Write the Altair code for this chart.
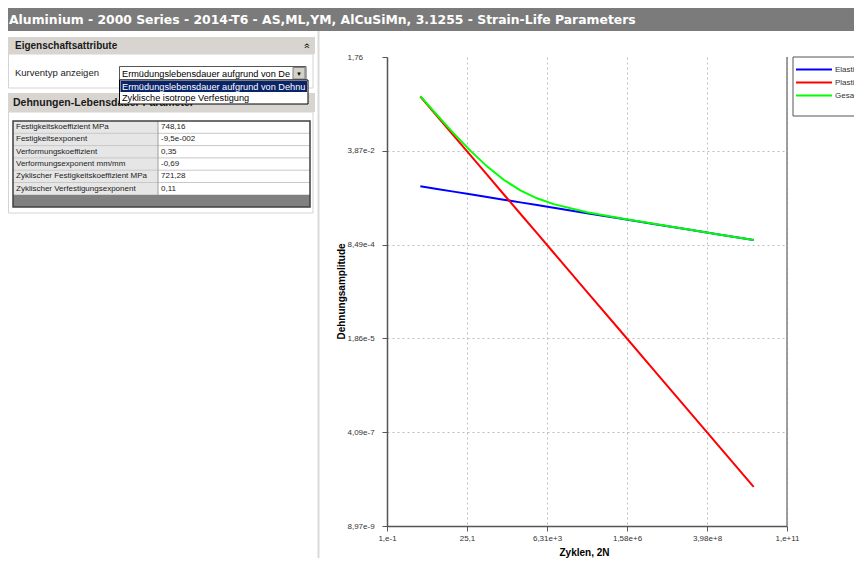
import altair as alt
import pandas as pd

# ---------------- data ----------------
cycles = [1, 3.16, 10, 31.6, 100, 316, 1000, 3160, 1e4, 1e5, 1e6, 1e7, 1e8, 1e9, 1e10]
elastic = [9.12e-3, 8.18e-3, 7.33e-3, 6.57e-3, 5.89e-3, 5.28e-3, 4.73e-3, 4.24e-3,
           3.80e-3, 3.05e-3, 2.45e-3, 1.97e-3, 1.58e-3, 1.27e-3, 1.02e-3]
plastic = [0.35, 0.158, 0.0714, 0.0323, 0.0146, 6.59e-3, 2.98e-3, 1.35e-3,
           6.08e-4, 1.24e-4, 2.54e-5, 5.18e-6, 1.06e-6, 2.16e-7, 4.41e-8]
total = [0.359, 0.166, 0.0787, 0.0389, 0.0205, 0.0119, 7.71e-3, 5.59e-3,
         4.41e-3, 3.17e-3, 2.48e-3, 1.98e-3, 1.58e-3, 1.27e-3, 1.02e-3]
series_names = ["Elastisch", "Plastisch", "Gesamt"]
series_colors = ["#0000ff", "#ff0000", "#00ff00"]

x_ticks = [0.1, 25.1189, 6309.57, 1584893.2, 398107170.6, 1e11]
x_labels = ["1,e-1", "25,1", "6,31e+3", "1,58e+6", "3,98e+8", "1,e+11"]
y_ticks = [1.76, 3.87e-2, 8.49e-4, 1.86e-5, 4.09e-7, 8.97e-9]
y_labels = ["1,76", "3,87e-2", "8,49e-4", "1,86e-5", "4,09e-7", "8,97e-9"]

page_title = "Aluminium - 2000 Series - 2014-T6 - AS,ML,YM, AlCuSiMn, 3.1255 - Strain-Life Parameters"
section1 = "Eigenschaftsattribute"
section2 = "Dehnungen-Lebensdauer Parameter"
curve_label = "Kurventyp anzeigen"
curve_options = ["Ermüdungslebensdauer aufgrund von Dehnung", "Zyklische isotrope Verfestigung"]
prop_names = ["Festigkeitskoeffizient MPa", "Festigkeitsexponent", "Verformungskoeffizient",
              "Verformungsexponent mm/mm", "Zyklischer Festigkeitskoeffizient MPa",
              "Zyklischer Verfestigungsexponent"]
prop_values = ["748,16", "-9,5e-002", "0,35", "-0,69", "721,28", "0,11"]

# ---------------- helpers for the surrounding UI ----------------
OX, OY = 387, 57          # screen position of the plot origin
PW, PH = 400, 469         # plot area
one = pd.DataFrame({"k": [0]})
UIFONT = "Liberation Sans"


def box(x1, y1, x2, y2, fill, stroke=None, sw=1.0):
    kw = {}
    if fill is None:
        kw["fill"] = "white"
        kw["fillOpacity"] = 0
    else:
        kw["fill"] = fill
    if stroke:
        kw["stroke"] = stroke
        kw["strokeWidth"] = sw
    else:
        kw["strokeWidth"] = 0
    return alt.Chart(one).mark_rect(**kw).encode(
        x=alt.value(x1 - OX), x2=alt.value(x2 - OX),
        y=alt.value(y1 - OY), y2=alt.value(y2 - OY))


def hline(x1, x2, y, color, sw=1.0):
    return alt.Chart(one).mark_rule(color=color, strokeWidth=sw).encode(
        x=alt.value(x1 - OX), x2=alt.value(x2 - OX), y=alt.value(y - OY))


def vline(x, y1, y2, color, sw=1.0):
    return alt.Chart(one).mark_rule(color=color, strokeWidth=sw).encode(
        x=alt.value(x - OX), y=alt.value(y1 - OY), y2=alt.value(y2 - OY))


def label(x, y, s, size=9.5, weight="normal", color="#000000", align="left",
          limit=0, angle=0, font=UIFONT):
    kw = dict(text=s, fontSize=size, fontWeight=weight, color=color,
              align=align, baseline="middle", font=font)
    if limit:
        kw["limit"] = limit
        kw["ellipsis"] = "\u200b"
    if angle:
        kw["angle"] = angle
    return alt.Chart(one).mark_text(**kw).encode(
        x=alt.value(x - OX), y=alt.value(y - OY))


ui = [
    box(8, 8, 860, 31, "#7b7b7b"),
    label(9, 20, page_title, size=12.4, weight="bold", color="#ffffff", font="DejaVu Sans"),
    vline(318.5, 31, 560, "#dadada", 2),
    box(8, 37, 315, 54, "#d8d5d0"),
    label(15, 46, section1, size=10, weight="bold", color="#1a1a1a"),
    label(307, 46, "»", size=10, angle=270, align="center"),
    box(8.5, 54, 313, 88, "#ffffff", "#d4d4d4"),
    label(15, 73, curve_label, size=9.5, color="#222222"),
    box(119.5, 66.5, 306, 80, "#ffffff", "#555555"),
    label(122, 73.5, curve_options[0], size=9.2, limit=171),
    box(293, 67.5, 305, 79, "#d4d0c8", "#808080"),
    label(299, 73.5, "▼", size=6, align="center"),
    box(8, 93, 315, 112, "#d8d5d0"),
    label(13, 103, section2, size=10.5, weight="bold", color="#1a1a1a"),
    box(8.5, 112, 313, 213, "#ffffff", "#d4d4d4"),
]

# table
T_L, T_R, T_TOP, ROW_H, T_DIV, T_BOT = 13, 310, 121, 12.3, 158, 207
n_rows = len(prop_names)
rows_bottom = T_TOP + n_rows * ROW_H
ui += [
    box(T_L, T_TOP, T_DIV, rows_bottom, "#e6e6e6"),
    box(T_DIV, T_TOP, T_R, rows_bottom, "#ffffff"),
]
for i in range(1, n_rows):
    ui.append(hline(T_L, T_R, T_TOP + i * ROW_H, "#c8c8c8"))
ui.append(vline(T_DIV, T_TOP, rows_bottom, "#a0a0a0"))
ui.append(box(T_L, rows_bottom, T_R, T_BOT, "#808080"))
ui.append(box(T_L, T_TOP, T_R, T_BOT, None, "#404040", 1.5))
for i, (nm, vl) in enumerate(zip(prop_names, prop_values)):
    cy = T_TOP + (i + 0.5) * ROW_H
    ui.append(label(16, cy, nm, size=8, color="#222222"))
    ui.append(label(161, cy, vl, size=8, color="#222222"))

# open dropdown list (drawn on top)
ui += [
    box(119.5, 80, 308, 104, "#ffffff", "#000000"),
    box(120.5, 81, 307, 92, "#0a246a"),
    label(122, 86.5, curve_options[0], size=9.2, color="#ffffff", limit=185),
    label(122, 98, curve_options[1], size=9.2, color="#000000"),
]

# ---------------- chart ----------------
df = pd.DataFrame({
    "cycles": cycles * 3,
    "value": elastic + plastic + total,
    "series": [series_names[0]] * len(cycles) + [series_names[1]] * len(cycles)
              + [series_names[2]] * len(cycles),
})

x_expr = "[" + ",".join("'%s'" % s for s in x_labels) + "][round((log(datum.value)/LN10 + 1) / 2.4)]"
y_expr = ("[" + ",".join("'%s'" % s for s in y_labels) +
          "][round((log(1.76)/LN10 - log(datum.value)/LN10) / 1.6586)]")

common_axis = dict(labelFont=UIFONT, labelFontSize=8, labelColor="#333333",
                   labelFlush=False, labelOverlap=False, labelBound=False,
                   tickSize=5, tickColor="#555555", domainColor="#555555", domainWidth=1.5,
                   grid=True, gridDash=[2, 3], gridColor="#bdbdbd",
                   titleFont=UIFONT, titleFontSize=10, titleFontWeight="bold", titleColor="#000000")

x_axis = alt.Axis(values=x_ticks, labelExpr=x_expr, title="Zyklen, 2N",
                  titleX=197, titleY=26, titleBaseline="middle", titleAlign="center",
                  labelPadding=3, **common_axis)
y_axis = alt.Axis(values=y_ticks, labelExpr=y_expr, title="Dehnungsamplitude",
                  titleX=-46, titleY=234, titleAngle=270, titleBaseline="middle", titleAlign="center",
                  labelAlign="left", labelBaseline="middle", labelPadding=35,
                  gridOpacity={"condition": {"test": "datum.value > 1", "value": 0}, "value": 1},
                  **common_axis)

lines = alt.Chart(df).mark_line(strokeWidth=2).encode(
    x=alt.X("cycles:Q", scale=alt.Scale(type="log", domain=[0.1, 1e11], nice=False), axis=x_axis),
    y=alt.Y("value:Q", scale=alt.Scale(type="log", domain=[8.97e-9, 1.76], nice=False), axis=y_axis),
    color=alt.Color("series:N", scale=alt.Scale(domain=series_names, range=series_colors), legend=None),
    order=alt.Order("cycles:Q"),
)

right_border = alt.Chart(one).mark_rule(color="#808080", strokeWidth=1.5).encode(
    x=alt.value(PW), y=alt.value(0), y2=alt.value(PH))

legend = [
    vline(793, 57, 116, "#555555"),
    hline(793, 870, 57, "#555555"),
    hline(793, 870, 116, "#555555"),
]
for i, (nm, col) in enumerate(zip(series_names, series_colors)):
    yy = 69.5 + i * 13
    legend.append(hline(796, 832, yy, col, 2))
    legend.append(label(835, yy, nm, size=8, color="#333333"))

chart = alt.layer(*ui, lines, right_border, *legend).properties(
    width=PW, height=PH,
    autosize=alt.AutoSizeParams(type="none"),
    padding={"left": OX - 8, "top": OY - 8, "right": 846 - (OX - 8) - PW, "bottom": 550 - (OY - 8) - PH},
    background="#ffffff",
).configure_view(stroke=None)

chart.save("out.html", embed_options={"renderer": "svg", "actions": False})
